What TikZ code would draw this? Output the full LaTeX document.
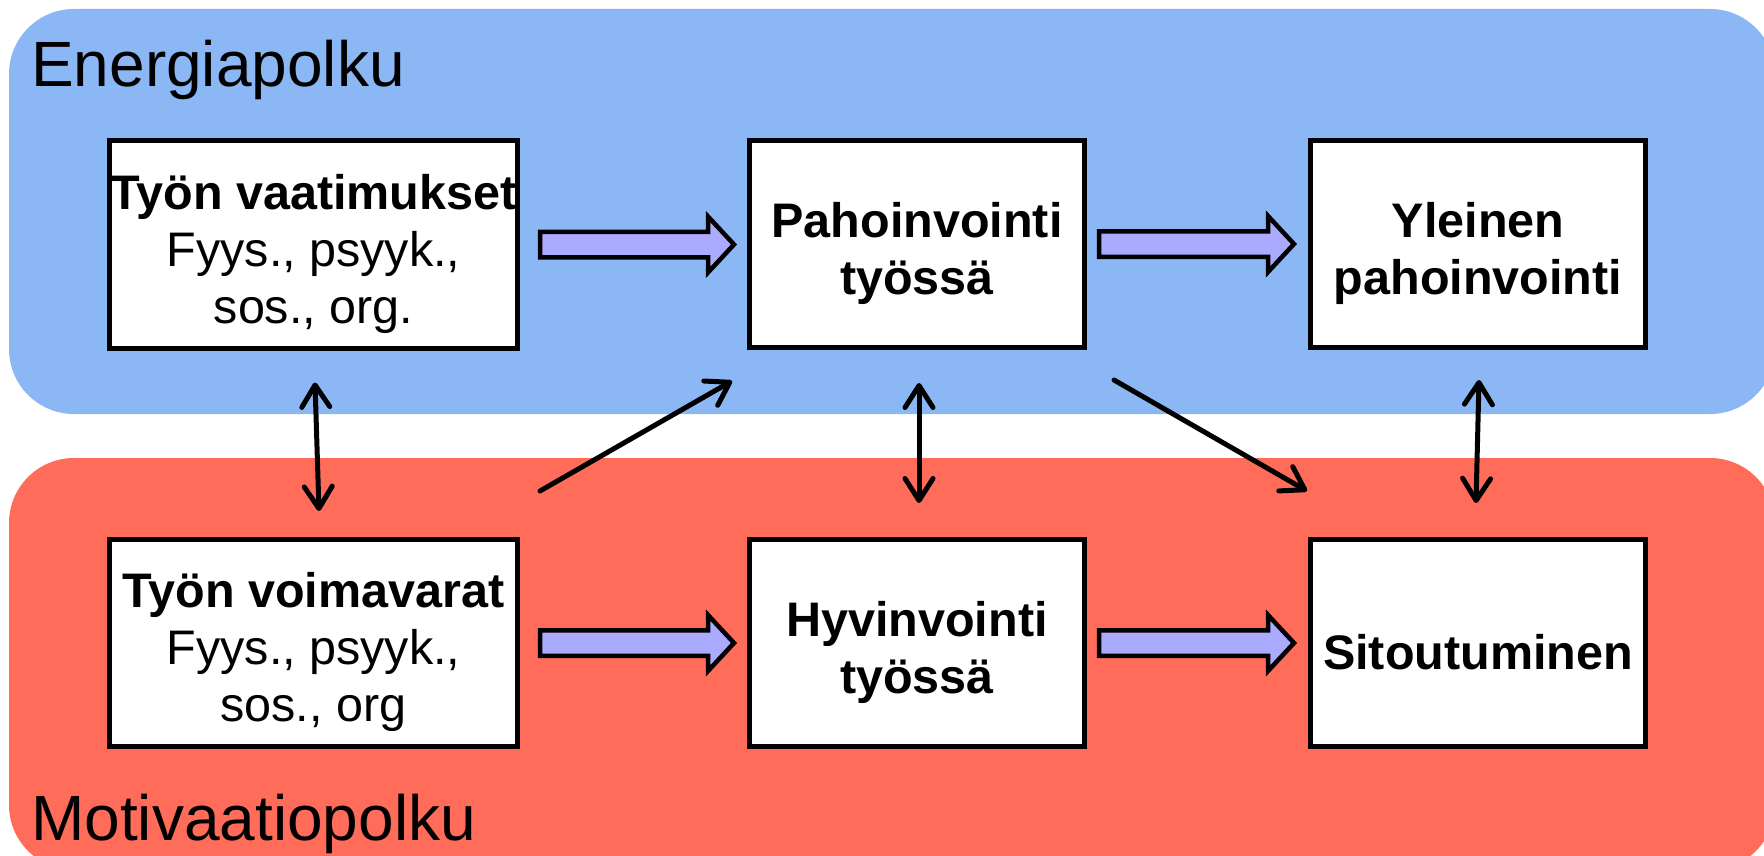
\documentclass[tikz,border=0pt]{standalone}
\usepackage{fontspec}
\setmainfont{Liberation Sans}
\usetikzlibrary{calc,arrows.meta}

\definecolor{energyblue}{RGB}{139,183,245}
\definecolor{motivred}{RGB}{255,109,90}
\definecolor{fatfill}{RGB}{170,170,255}

\begin{document}
\begin{tikzpicture}[x=1pt, y=-1pt,
    box/.style={draw, fill=white, line width=5pt, minimum width=335pt, minimum height=207pt, inner sep=0pt},
    wide/.style={minimum width=408pt},
    boxtext/.style={yshift=-9pt, align=center, inner sep=0pt, font=\fontsize{48.5}{57}\selectfont},
    pathlabel/.style={anchor=base west, inner sep=0pt, font=\fontsize{64}{72}\selectfont},
    link/.style={line width=5pt, line cap=round, >={Straight Barb[length=22pt,width=28pt,round]}},
    fatarrow/.style={draw, line width=4.5pt, fill=fatfill, to path={
        let \p1=(\tikztostart), \p2=(\tikztotarget) in
        (\x1,\y1+12.75pt) -- (\x2-26pt,\y1+12.75pt) -- (\x2-26pt,\y1+28pt) -- (\x2,\y1)
        -- (\x2-26pt,\y1-28pt) -- (\x2-26pt,\y1-12.75pt) -- (\x1,\y1-12.75pt) -- cycle}}]
    \clip (0,0) rectangle (1764,856);

    % Background bands
    \fill[energyblue, rounded corners=65pt] (9,9) rectangle (1775,414);
    \fill[motivred, rounded corners=65pt] (9,458) rectangle (1775,870);
    \node[pathlabel] (energia) at (31,87) {Energiapolku};
    \node[pathlabel] (motiv) at (31,840) {Motivaatiopolku};

    % Nodes
    \node[box, wide, label={[boxtext]center:{\textbf{Työn vaatimukset}\\Fyys., psyyk.,\\sos., org.}}] (vaat) at (313.5,244.5) {};
    \node[box, label={[boxtext]center:{\textbf{Pahoinvointi}\\\textbf{työssä}}}] (pahtyo) at (917,244) {};
    \node[box, label={[boxtext]center:{\textbf{Yleinen}\\\textbf{pahoinvointi}}}] (yleinen) at (1478,244) {};
    \node[box, wide, label={[boxtext]center:{\textbf{Työn voimavarat}\\Fyys., psyyk.,\\sos., org}}] (voima) at (313.5,643) {};
    \node[box, label={[boxtext]center:{\textbf{Hyvinvointi}\\\textbf{työssä}}}] (hyvtyo) at (917,643) {};
    \node[box, label={[boxtext]center:{\textbf{Sitoutuminen}}}] (sitout) at (1478,643) {};

    % Main paths
    \draw[fatarrow] ([xshift=20pt]vaat.east) to ([xshift=-13pt]pahtyo.west);
    \draw[fatarrow] ([xshift=12pt]pahtyo.east) to ([xshift=-14pt]yleinen.west);
    \draw[fatarrow] ([xshift=20pt]voima.east) to ([xshift=-13pt]hyvtyo.west);
    \draw[fatarrow] ([xshift=12pt]hyvtyo.east) to ([xshift=-14pt]sitout.west);

    % Cross links
    \draw[link, <->] ([xshift=1.5pt,yshift=-32pt]vaat.south) -- ([xshift=5.5pt,yshift=26pt]voima.north);
    \draw[link, <->] ([xshift=2pt,yshift=-33pt]pahtyo.south) -- ([xshift=2pt,yshift=34pt]hyvtyo.north);
    \draw[link, <->] ([xshift=1pt,yshift=-30pt]yleinen.south) -- ([xshift=-2pt,yshift=34pt]sitout.north);
    \draw[link, ->] ([xshift=20pt,yshift=46pt]voima.north east) -- ([xshift=-15pt,yshift=-31pt]pahtyo.south west);
    \draw[link, ->] ([xshift=27pt,yshift=-30pt]pahtyo.south east) -- ([xshift=-1pt,yshift=46pt]sitout.north west);
\end{tikzpicture}
\end{document}
